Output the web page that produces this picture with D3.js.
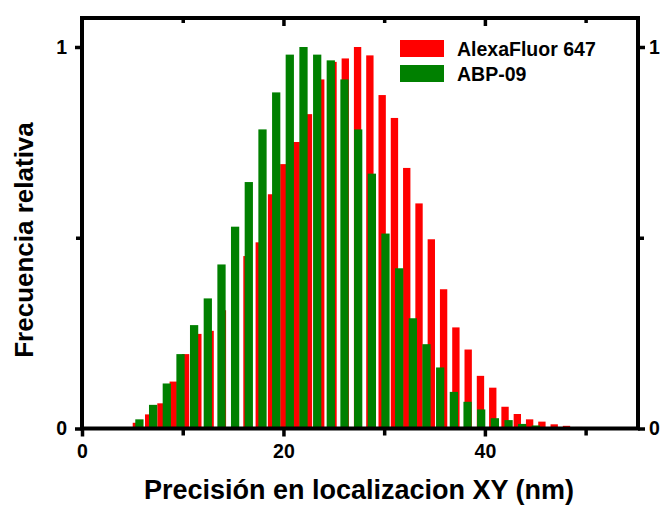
<!DOCTYPE html>
<html>
<head>
<meta charset="utf-8">
<script src="https://cdn.jsdelivr.net/npm/d3@7"></script>
<style>
  html, body { margin: 0; padding: 0; background: #fff; }
  svg { display: block; }
  text { font-family: "Liberation Sans", Arial, sans-serif; font-weight: bold; fill: #000; }
</style>
</head>
<body>
<svg id="chart" width="661" height="506"></svg>
<script>
// Histogram bin centres (nm) and normalised frequencies for each probe
const alexaCenters = [5.40, 6.62, 7.84, 9.06, 10.28, 11.50, 12.72, 13.94, 15.16, 16.38,
  17.60, 18.82, 20.04, 21.26, 22.48, 23.70, 24.92, 26.14, 27.36, 28.58,
  29.80, 31.02, 32.24, 33.46, 34.68, 35.90, 37.12, 38.34, 39.56, 40.78,
  42.00, 43.22, 44.44, 45.66, 46.88, 48.10, 49.32];
const alexaValues = [0.015, 0.037, 0.066, 0.123, 0.195, 0.248, 0.256, 0.31, 0.373, 0.452,
  0.488, 0.614, 0.693, 0.751, 0.824, 0.915, 0.961, 0.970, 1.0, 0.978,
  0.874, 0.814, 0.683, 0.590, 0.496, 0.365, 0.265, 0.207, 0.138, 0.107,
  0.057, 0.038, 0.024, 0.018, 0.011, 0.007, 0.004];

const abpCenters = [5.70, 7.06, 8.42, 9.78, 11.13, 12.49, 13.85, 15.20, 16.56, 17.92,
  19.28, 20.63, 21.99, 23.35, 24.70, 26.06, 27.42, 28.78, 30.13, 31.49,
  32.85, 34.20, 35.56, 36.92, 38.28, 39.63, 40.99, 42.35, 43.70, 45.06];
const abpValues = [0.024, 0.062, 0.118, 0.195, 0.271, 0.341, 0.430, 0.529, 0.646, 0.784,
  0.881, 0.980, 1.0, 0.980, 0.965, 0.915, 0.784, 0.668, 0.511, 0.420,
  0.289, 0.221, 0.160, 0.096, 0.070, 0.050, 0.027, 0.022, 0.012, 0.008];

const seriesNames = ["AlexaFluor 647", "ABP-09"];
const seriesColors = ["#ff0000", "#008000"];

const xMajorTicks = [0, 20, 40];
const xMinorTicks = [10, 30, 50];
const xTickLabels = ["0", "20", "40"];
const yMajorTicks = [0, 1];
const yMinorTicks = [0.5];
const yTickLabels = ["0", "1"];

const xTitle = "Precisión en localizacion XY (nm)";
const yTitle = "Frecuencia relativa";

// Layout
const plotLeft = 82, plotRight = 638, plotTop = 18, plotBottom = 428.5;
const alexaBarWidth = 0.73, abpBarWidth = 0.82;   // in nm
const frameWidth = 4;
const tickFont = 19.5;

const svg = d3.select("#chart");

const x = d3.scaleLinear().domain([0, 55.2]).range([plotLeft, plotRight]);
const y = d3.scaleLinear().domain([0, 1.076]).range([plotBottom, plotTop]);

// Bars: AlexaFluor behind, ABP-09 in front
function drawBars(centers, values, width, color) {
  const data = centers.map((c, i) => ({ c, v: values[i] }));
  svg.append("g")
    .selectAll("rect")
    .data(data)
    .join("rect")
    .attr("x", d => x(d.c - width / 2))
    .attr("width", d => x(d.c + width / 2) - x(d.c - width / 2))
    .attr("y", d => y(d.v))
    .attr("height", d => y(0) - y(d.v))
    .attr("fill", color);
}
drawBars(alexaCenters, alexaValues, alexaBarWidth, seriesColors[0]);
drawBars(abpCenters, abpValues, abpBarWidth, seriesColors[1]);

// Axes
const fmtX = d => xTickLabels[xMajorTicks.indexOf(d)];
const fmtY = d => yTickLabels[yMajorTicks.indexOf(d)];

function styleAxis(g) {
  g.select(".domain").remove();
  g.selectAll(".tick line").attr("stroke", "#000").attr("stroke-width", 3.5);
  g.selectAll(".tick text").attr("font-size", tickFont)
    .style("font-family", '"Liberation Sans", Arial, sans-serif').style("font-weight", "bold");
}

// bottom
svg.append("g").attr("transform", `translate(0,${plotBottom})`)
  .call(d3.axisBottom(x).tickValues(xMajorTicks).tickFormat(fmtX).tickSize(8).tickPadding(8))
  .call(styleAxis);
svg.append("g").attr("transform", `translate(0,${plotBottom})`)
  .call(d3.axisBottom(x).tickValues(xMinorTicks).tickFormat("").tickSize(7))
  .call(styleAxis);
// top (inward ticks)
svg.append("g").attr("transform", `translate(0,${plotTop})`)
  .call(d3.axisBottom(x).tickValues(xMajorTicks.filter(v => v > 0)).tickFormat("").tickSize(8))
  .call(styleAxis);
svg.append("g").attr("transform", `translate(0,${plotTop})`)
  .call(d3.axisBottom(x).tickValues(xMinorTicks).tickFormat("").tickSize(5))
  .call(styleAxis);
// left
svg.append("g").attr("transform", `translate(${plotLeft},0)`)
  .call(d3.axisLeft(y).tickValues(yMajorTicks).tickFormat(fmtY).tickSize(7).tickPadding(8))
  .call(styleAxis);
svg.append("g").attr("transform", `translate(${plotLeft},0)`)
  .call(d3.axisLeft(y).tickValues(yMinorTicks).tickFormat("").tickSize(6))
  .call(styleAxis);
// right
svg.append("g").attr("transform", `translate(${plotRight},0)`)
  .call(d3.axisRight(y).tickValues(yMajorTicks).tickFormat(fmtY).tickSize(7).tickPadding(4))
  .call(styleAxis);
svg.append("g").attr("transform", `translate(${plotRight},0)`)
  .call(d3.axisRight(y).tickValues(yMinorTicks).tickFormat("").tickSize(6))
  .call(styleAxis);

// Frame
svg.append("rect")
  .attr("x", plotLeft).attr("y", plotTop)
  .attr("width", plotRight - plotLeft).attr("height", plotBottom - plotTop)
  .attr("fill", "none").attr("stroke", "#000").attr("stroke-width", frameWidth);

// Legend
const legend = svg.append("g").attr("transform", "translate(400,40)");
seriesNames.forEach((name, i) => {
  const g = legend.append("g").attr("transform", `translate(0,${i * 25})`);
  g.append("rect").attr("width", 44).attr("height", 17).attr("fill", seriesColors[i]);
  g.append("text").attr("x", 57).attr("y", 15.5).attr("font-size", 19.5).text(name);
});

// Axis titles
svg.append("text")
  .attr("x", 359).attr("y", 499)
  .attr("text-anchor", "middle").attr("font-size", 27)
  .text(xTitle);
svg.append("text")
  .attr("transform", "translate(33,240) rotate(-90)")
  .attr("text-anchor", "middle").attr("font-size", 26)
  .text(yTitle);
</script>
</body>
</html>
